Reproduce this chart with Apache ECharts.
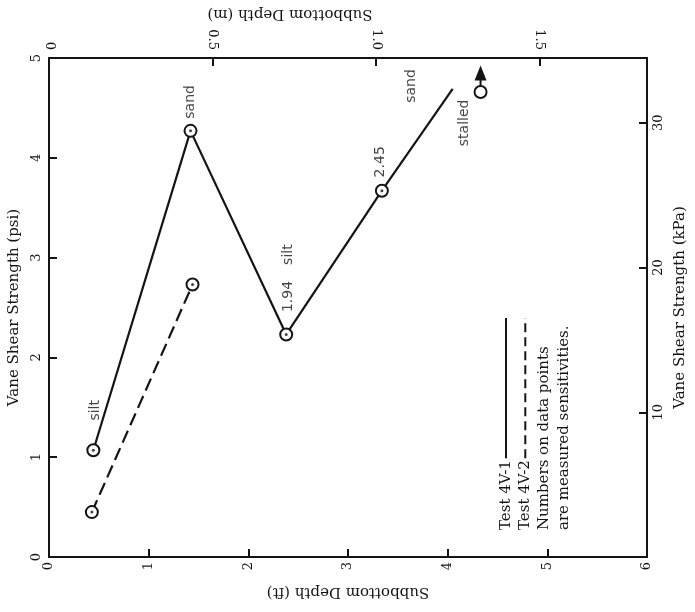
<!DOCTYPE html>
<html>
<head>
<meta charset="utf-8">
<script src="https://cdn.jsdelivr.net/npm/echarts@6/dist/echarts.min.js"></script>
<style>
html,body{margin:0;padding:0;background:#fff;}
#chart{width:695px;height:612px;}
</style>
</head>
<body>
<div id="chart"></div>
<script>
// ---- Data (Subbottom depth in ft, vane shear strength in psi) ----
const test1Depth    = [0.445, 1.42, 2.38, 3.34, 4.05];
const test1Strength = [1.07, 4.27, 2.23, 3.67, 4.69];
const test1Marked   = [true, true, true, true, false];
const test2Depth    = [0.43, 1.44];
const test2Strength = [0.45, 2.73];
const stalledDepth    = [4.33, 4.33];
const stalledStrength = [4.66, 4.85];   // measured point, then arrow head
const noteText     = ['silt', 'sand', 'silt', '1.94', '2.45', 'sand', 'stalled'];
const noteDepth    = [0.47, 1.42, 2.40, 2.40, 3.32, 3.64, 4.17];
const noteStrength = [1.47, 4.56, 3.03, 2.61, 3.96, 4.72, 4.35];
const ftTicks  = [0, 1, 2, 3, 4, 5, 6];
const mTicks   = ['0', '0.5', '1.0', '1.5'];
const kPaTicks = [10, 20, 30];
const legendText = ['Test 4V-1', 'Test 4V-2', 'Numbers on data points', 'are measured sensitivities.'];

const FT_TO_M = 0.3048;
const PSI_TO_KPA = 6.89476;
const INK = '#141414';
const SERIF = '"DejaVu Serif", "Liberation Serif", serif';
const SANS = '"DejaVu Sans", sans-serif';

const chart = echarts.init(document.getElementById('chart'));

const test1Data = test1Depth.map((d, i) => ({
  value: [d, test1Strength[i]],
  symbol: test1Marked[i] ? 'circle' : 'none'
}));
const dotData = test1Depth.map((d, i) => test1Marked[i] ? [d, test1Strength[i]] : null).filter(Boolean)
  .concat(test2Depth.map((d, i) => [d, test2Strength[i]]));
const test2Data = test2Depth.map((d, i) => [d, test2Strength[i]]);
const stalledData = stalledDepth.map((d, i) => ({
  value: [d, stalledStrength[i]],
  symbol: i === 0 ? 'circle' : 'triangle',
  symbolSize: i === 0 ? 12 : [12, 15],
  itemStyle: i === 0 ? {color: '#fff', borderColor: INK, borderWidth: 2} : {color: INK, borderWidth: 0}
}));
const noteData = noteText.map((t, i) => ({name: t, value: [noteDepth[i], noteStrength[i]]}));

const axisLineStyle = () => ({show: true, onZero: false, lineStyle: {color: INK, width: 2}});
const tickStyle = () => ({show: true, inside: true, length: 8, lineStyle: {color: INK, width: 2}});
const labelStyle = {color: INK, fontFamily: SERIF, fontSize: 13, rotate: 90};
const nameStyle = {color: INK, fontFamily: SERIF, fontSize: 15};

function near(v, t) { return Math.abs(v - t) < 1e-6; }

const measureCtx = document.createElement('canvas').getContext('2d');
const LEGEND_FONT = '15px ' + SERIF;
measureCtx.font = LEGEND_FONT;

const legendGraphics = legendText.map((t, i) => {
  const children = [{
    type: 'text', x: 0, y: 0,
    style: {text: t, fill: INK, font: LEGEND_FONT, textAlign: 'left', textVerticalAlign: 'middle'}
  }];
  if (i < 2) {
    const start = measureCtx.measureText(t).width + 2;
    children.push({
      type: 'line',
      shape: {x1: start, y1: 0, x2: 212, y2: 0},
      style: {stroke: INK, lineWidth: 2, lineDash: i === 1 ? [9, 5] : null}
    });
  }
  return {type: 'group', x: 506 + i * 19.3, y: 530, rotation: Math.PI / 2, children};
});

chart.setOption({
  backgroundColor: '#fff',
  animation: false,
  grid: {left: 49, right: 48, top: 58, bottom: 55, outerBoundsMode: 'none', containLabel: false},
  xAxis: [{
    type: 'value', position: 'bottom', min: 0, max: 6, interval: 1,
    axisLine: axisLineStyle(), axisTick: tickStyle(), splitLine: {show: false},
    axisLabel: Object.assign({}, labelStyle, {margin: 5,
      formatter: v => ftTicks.some(t => near(v, t)) ? String(v) : ''}),
    name: 'Subbottom Depth (ft)', nameLocation: 'middle', nameRotate: 180, nameGap: 27,
    nameTextStyle: nameStyle
  }, {
    type: 'value', position: 'top', min: 0, max: 6 * FT_TO_M, interval: 0.5,
    axisLine: axisLineStyle(), axisTick: tickStyle(), splitLine: {show: false},
    axisLabel: Object.assign({}, labelStyle, {margin: 8, showMaxLabel: false,
      formatter: v => { const s = v === 0 ? '0' : v.toFixed(1); return mTicks.includes(s) && near(v, parseFloat(s)) ? s : ''; }}),
    name: 'Subbottom Depth (m)', nameLocation: 'middle', nameRotate: 180, nameGap: 35,
    nameTextStyle: Object.assign({}, nameStyle, {padding: [0, 0, 0, 116]})
  }],
  yAxis: [{
    type: 'value', position: 'left', min: 0, max: 5, interval: 1,
    axisLine: axisLineStyle(), axisTick: tickStyle(), splitLine: {show: false},
    axisLabel: Object.assign({}, labelStyle, {margin: 6}),
    name: 'Vane Shear Strength (psi)', nameLocation: 'middle', nameRotate: 90, nameGap: 27,
    nameTextStyle: nameStyle
  }, {
    type: 'value', position: 'right', min: 0, max: 5 * PSI_TO_KPA, interval: 10,
    axisLine: axisLineStyle(), axisTick: tickStyle(), splitLine: {show: false},
    axisLabel: Object.assign({}, labelStyle, {margin: 5, showMaxLabel: false,
      formatter: v => kPaTicks.some(t => near(v, t)) ? String(v) : ''}),
    name: 'Vane Shear Strength (kPa)', nameLocation: 'middle', nameRotate: 90, nameGap: 24,
    nameTextStyle: nameStyle
  }],
  graphic: legendGraphics,
  series: [{
    name: 'Test 4V-1', type: 'line', xAxisIndex: 0, yAxisIndex: 0,
    data: test1Data, symbolSize: 12, z: 3,
    lineStyle: {color: INK, width: 2.2},
    itemStyle: {color: '#fff', borderColor: INK, borderWidth: 2}
  }, {
    name: 'Test 4V-2', type: 'line', xAxisIndex: 0, yAxisIndex: 0,
    data: test2Data, symbol: 'circle', symbolSize: 12, z: 3,
    lineStyle: {color: INK, width: 2.2, type: [13, 6]},
    itemStyle: {color: '#fff', borderColor: INK, borderWidth: 2}
  }, {
    name: 'dots', type: 'scatter', xAxisIndex: 0, yAxisIndex: 0,
    data: dotData, symbol: 'circle', symbolSize: 3, z: 5,
    itemStyle: {color: INK}
  }, {
    name: 'stalled', type: 'line', xAxisIndex: 0, yAxisIndex: 0,
    data: stalledData, z: 4,
    lineStyle: {color: INK, width: 2}
  }, {
    name: 'notes', type: 'scatter', xAxisIndex: 0, yAxisIndex: 0,
    data: noteData, symbolSize: 1, z: 6,
    itemStyle: {color: 'rgba(0,0,0,0)'},
    label: {show: true, position: 'inside', rotate: 90, formatter: '{b}',
      color: INK, fontFamily: SANS, fontSize: 14}
  }]
});
</script>
</body>
</html>
